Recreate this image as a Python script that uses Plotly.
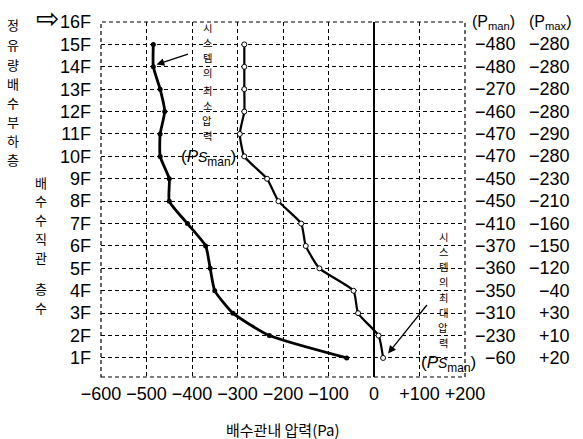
import plotly.graph_objects as go

floors = list(range(1, 16))
floor_ticks = list(range(1, 17))
floor_labels = [f"{f}F" for f in floor_ticks]

# plotted curves, floors 1..15
p_min_curve = [-60, -230, -310, -350, -360, -370, -410, -450, -450, -470, -470, -460, -470, -485, -485]
p_max_curve = [20, 10, -35, -45, -120, -150, -160, -210, -235, -285, -295, -285, -285, -285, -285]

# table columns, floors 15..1
table_floors = list(range(15, 0, -1))
p_min_text = ["−480", "−480", "−270", "−460", "−470", "−470", "−450", "−450", "−410",
              "−370", "−360", "−350", "−310", "−230", "−60"]
p_max_text = ["−280", "−280", "−280", "−280", "−290", "−280", "−230", "−210", "−160",
              "−150", "−120", "−40", "+30", "+10", "+20"]

x_ticks = [-600, -500, -400, -300, -200, -100, 0, 100, 200]
x_tick_labels = ["−600", "−500", "−400", "−300", "−200", "−100", "0", "+100", "+200"]

NUM_FONT = "Liberation Sans Narrow, Liberation Sans, Arial, sans-serif"
KR_FONT = "Noto Sans CJK KR, sans-serif"

L, R, T, B = 101, 465, 20, 377
W, H = 583, 439
Y0, Y1 = 0.15, 16


def px(x):
    return (x - L) / (R - L)


def py(y):
    return (B - y) / (B - T)


fig = go.Figure()

fig.add_trace(go.Scatter(
    x=p_min_curve, y=floors, mode="lines+markers",
    line=dict(color="black", width=2.8, shape="spline", smoothing=0.5),
    marker=dict(size=5, color="black"),
    showlegend=False, hoverinfo="skip"))

fig.add_trace(go.Scatter(
    x=p_max_curve, y=floors, mode="lines+markers",
    line=dict(color="black", width=2.2, shape="spline", smoothing=0.5),
    marker=dict(size=5, color="white", line=dict(color="black", width=1)),
    showlegend=False, hoverinfo="skip"))

annotations = []

# table
for f, t1, t2 in zip(table_floors, p_min_text, p_max_text):
    annotations.append(dict(xref="paper", yref="y", x=px(518), y=f, text=t1,
                            showarrow=False, xanchor="right", yanchor="middle",
                            font=dict(family=NUM_FONT, size=18, color="black")))
    annotations.append(dict(xref="paper", yref="y", x=px(572), y=f, text=t2,
                            showarrow=False, xanchor="right", yanchor="middle",
                            font=dict(family=NUM_FONT, size=18, color="black")))

annotations.append(dict(xref="paper", yref="y", x=px(493), y=16, text="(P<sub>man</sub>)",
                        showarrow=False, xanchor="center", yanchor="middle",
                        font=dict(family=NUM_FONT, size=16, color="black")))
annotations.append(dict(xref="paper", yref="y", x=px(550), y=16, text="(P<sub>max</sub>)",
                        showarrow=False, xanchor="center", yanchor="middle",
                        font=dict(family=NUM_FONT, size=16, color="black")))


def ptext(xp, yp, text, size, family=KR_FONT):
    annotations.append(dict(xref="paper", yref="paper", x=px(xp), y=py(yp), text=text,
                            showarrow=False, xanchor="center", yanchor="middle",
                            borderpad=0,
                            font=dict(family=family, size=size, color="black")))


def vchars(text, xp, ys, size):
    for ch, yp in zip(text, ys):
        ptext(xp, yp, ch, size)


vchars("정유량배수부하층", 13, [23, 43, 63, 82, 101, 120, 139, 158], 13)
vchars("배수수직관", 41, [181, 200, 219, 238, 257], 13)
vchars("층수", 41, [288, 307], 13)
ptext(47, 16, "⇨", 28, family="DejaVu Sans")

vchars("시스템의최소압력", 207, [26, 41, 56, 71, 89, 104, 119, 134], 10.3)
vchars("시스템의최대압력", 443, [236, 251, 266, 281, 297, 312, 327, 342], 10.3)

ps_txt = "(<i>P</i><i><span style='font-size:14px'>S</span></i><sub>man</sub>)"
ptext(208, 157, ps_txt, 17, family=NUM_FONT)
ptext(448, 364, ps_txt, 17, family=NUM_FONT)

ptext(283, 430, "배수관내 압력(Pa)", 15)

# arrows
annotations.append(dict(xref="x", yref="y", x=-478, y=14.1, ax=33, ay=-11,
                        axref="pixel", ayref="pixel", text="", showarrow=True,
                        arrowhead=2, arrowsize=1.2, arrowwidth=1.3, arrowcolor="black"))
annotations.append(dict(xref="x", yref="y", x=31, y=1.2, ax=40, ay=-50,
                        axref="pixel", ayref="pixel", text="", showarrow=True,
                        arrowhead=2, arrowsize=1.2, arrowwidth=1.3, arrowcolor="black"))

shapes = [dict(type="rect", xref="paper", yref="paper", x0=0, x1=1, y0=0, y1=1,
               line=dict(color="black", width=1.2, dash="4px,3px"), layer="below")]

fig.update_layout(
    width=W, height=H,
    margin=dict(l=L, r=W - R, t=T, b=H - B),
    paper_bgcolor="white", plot_bgcolor="white",
    showlegend=False,
    annotations=annotations,
    shapes=shapes,
    xaxis=dict(range=[-600, 200], tickvals=x_ticks, ticktext=x_tick_labels,
               showgrid=True, gridcolor="black", gridwidth=1, griddash="4px,3px",
               zeroline=True, zerolinecolor="black", zerolinewidth=2,
               showline=False, ticks="", ticklabelstandoff=4,
               tickfont=dict(family=NUM_FONT, size=18, color="black")),
    yaxis=dict(range=[Y0, Y1], tickvals=floor_ticks, ticktext=floor_labels,
               showgrid=True, gridcolor="black", gridwidth=1, griddash="4px,3px",
               zeroline=False, showline=False, ticks="", ticklabelstandoff=9,
               tickfont=dict(family=NUM_FONT, size=18, color="black")),
)

fig.write_html("out.html", config={"displayModeBar": False},
               post_script="document.body.style.margin='0';")
